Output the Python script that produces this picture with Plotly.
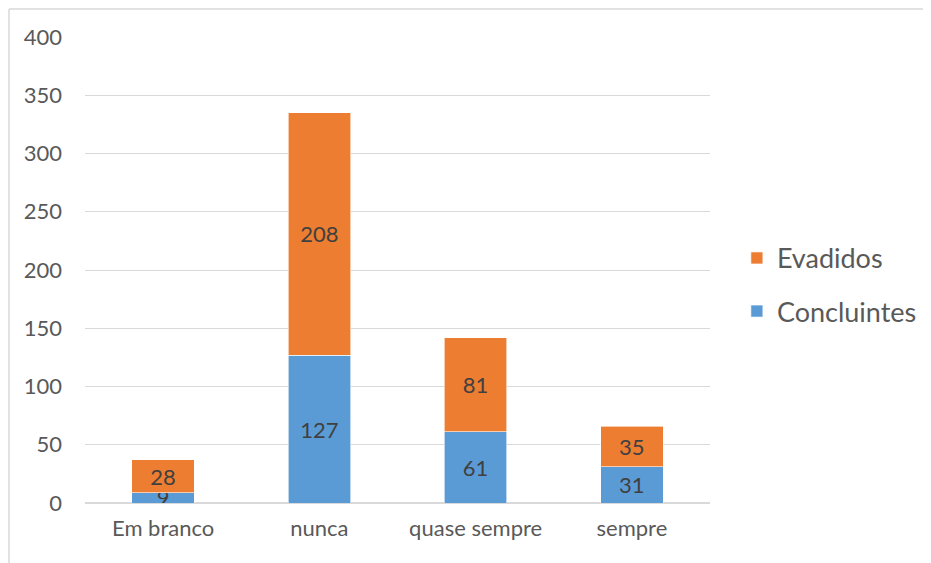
import plotly.graph_objects as go

categorias = ['Em branco', 'nunca', 'quase sempre', 'sempre']
concluintes = [9, 127, 61, 31]
evadidos = [28, 208, 81, 35]

azul = '#5B9BD5'
laranja = '#ED7D31'
fonte = 'Lato, Calibri, sans-serif'

fig = go.Figure()

fig.add_trace(go.Bar(x=categorias, y=concluintes, name='Concluintes',
                     legendgroup='c', legendrank=2,
                     marker=dict(color=azul, line=dict(color='white', width=0.6)),
                     text=concluintes, textposition='inside', textangle=0,
                     insidetextanchor='middle',
                     textfont=dict(family=fonte, size=22, color='#404040')))
fig.add_trace(go.Bar(x=categorias, y=evadidos, name='Evadidos',
                     legendgroup='e', legendrank=1,
                     marker=dict(color=laranja, line=dict(color='white', width=0.6)),
                     text=evadidos, textposition='inside', textangle=0,
                     insidetextanchor='middle',
                     textfont=dict(family=fonte, size=22, color='#404040')))

fig.update_layout(
    width=931, height=563,
    barmode='stack',
    bargap=0.6,
    plot_bgcolor='white',
    paper_bgcolor='white',
    margin=dict(l=77, r=229, t=29, b=68),
    font=dict(family=fonte, color='#595959'),
    uniformtext=dict(mode='show', minsize=22),
    showlegend=True,
    legend=dict(x=1.043, y=0.468, xanchor='left', yanchor='middle',
                traceorder='grouped', font=dict(size=27, color='#595959'),
                itemwidth=30, tracegroupgap=15),
)

fig.update_yaxes(range=[0, 400], dtick=50, showgrid=True, gridcolor='#D9D9D9',
                 gridwidth=1, zeroline=True, zerolinecolor='#D9D9D9',
                 showline=False, ticks='', ticklabelstandoff=22,
                 tickfont=dict(size=22, color='#595959'))
fig.update_xaxes(showgrid=False, showline=False, ticks='',
                 tickfont=dict(size=22, color='#595959'), ticklabelstandoff=10)

# moldura do gráfico (cortada à direita e em baixo)
fig.add_shape(type='line', xref='paper', yref='paper',
              x0=-0.1216, x1=1.4, y0=1.060, y1=1.060,
              line=dict(color='#D9D9D9', width=1.5))
fig.add_shape(type='line', xref='paper', yref='paper',
              x0=-0.1216, x1=-0.1216, y0=1.060, y1=-0.2,
              line=dict(color='#D9D9D9', width=1.5))

fig.write_html('out.html')
